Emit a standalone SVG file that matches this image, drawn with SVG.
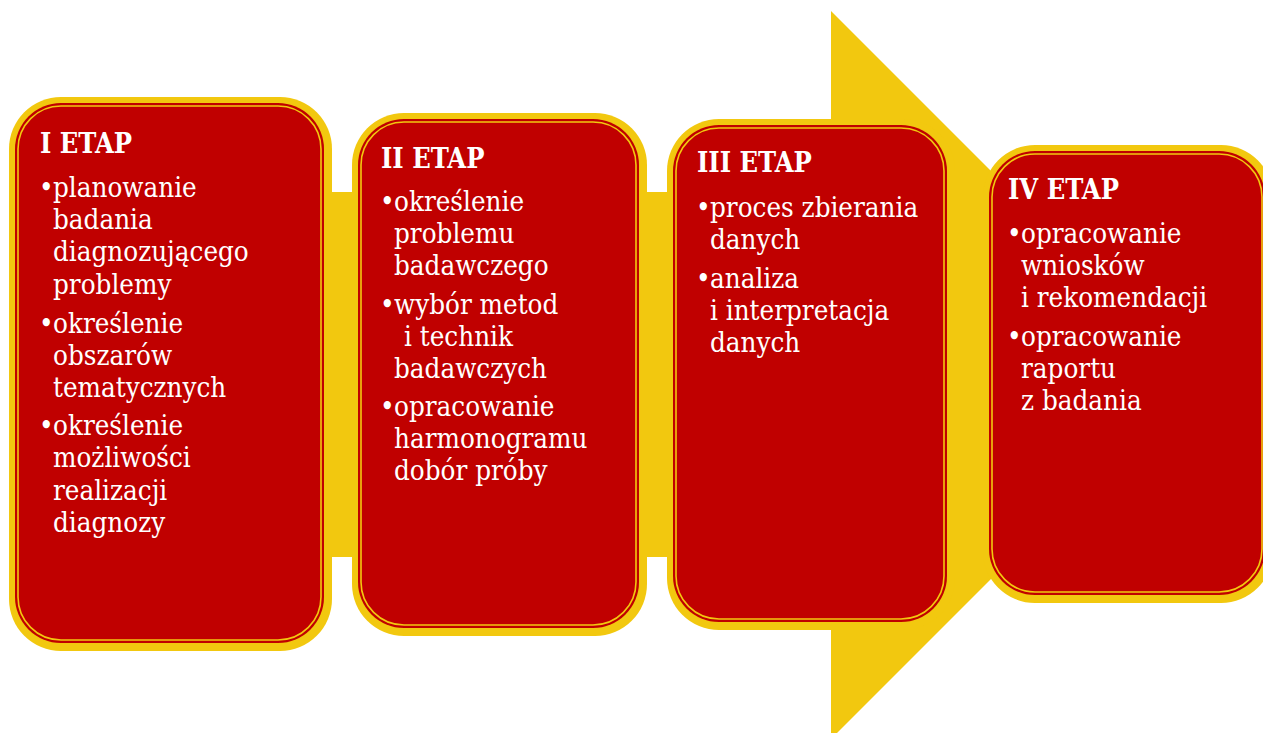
<svg xmlns="http://www.w3.org/2000/svg" width="1263" height="733" viewBox="0 0 1263 733">
<style>
.outer{fill:#F2C80F}
.inner{fill:#C00000}
.line{fill:none;stroke:#F2C80F;stroke-width:1.6}
.h{font-family:"DejaVu Serif Condensed","DejaVu Serif","Liberation Serif",serif;font-stretch:condensed;font-weight:bold;font-size:27px;fill:#FFFFFF}
.t{font-family:"DejaVu Serif Condensed","DejaVu Serif","Liberation Serif",serif;font-stretch:condensed;font-size:27.5px;fill:#FFFFFF}
</style>
<rect width="1263" height="733" fill="#FFFFFF"/>
<g id="arrow">
<rect class="outer" x="20" y="192" width="820" height="365"/>
<polygon class="outer" points="831,11 1195,375 831,739"/>
</g>
<g id="connectors"></g>
<g id="etap1">
<rect class="outer" x="9" y="97" width="323" height="554" rx="52"/>
<rect class="inner" x="15" y="103" width="309" height="540" rx="46"/>
<rect class="line" x="18" y="106" width="303" height="534" rx="43"/>
<text class="h" x="40" y="153">I ETAP</text>
<text class="t"><tspan x="39" y="197">•</tspan><tspan x="53" y="197">planowanie</tspan><tspan x="53" y="229">badania</tspan><tspan x="53" y="261">diagnozującego</tspan><tspan x="53" y="294">problemy</tspan><tspan x="39" y="333">•</tspan><tspan x="53" y="333">określenie</tspan><tspan x="53" y="365">obszarów</tspan><tspan x="53" y="397">tematycznych</tspan><tspan x="39" y="435">•</tspan><tspan x="53" y="435">określenie</tspan><tspan x="53" y="467">możliwości</tspan><tspan x="53" y="500">realizacji</tspan><tspan x="53" y="532">diagnozy</tspan></text>
</g>
<g id="etap2">
<rect class="outer" x="352" y="113" width="295" height="523" rx="52"/>
<rect class="inner" x="358" y="119" width="281" height="509" rx="46"/>
<rect class="line" x="361" y="122" width="275" height="503" rx="43"/>
<text class="h" x="381" y="168">II ETAP</text>
<text class="t"><tspan x="380" y="211">•</tspan><tspan x="394" y="211">określenie</tspan><tspan x="394" y="243">problemu</tspan><tspan x="394" y="275">badawczego</tspan><tspan x="380" y="314">•</tspan><tspan x="394" y="314">wybór metod</tspan><tspan x="404" y="346">i technik</tspan><tspan x="394" y="378">badawczych</tspan><tspan x="380" y="416">•</tspan><tspan x="394" y="416">opracowanie</tspan><tspan x="394" y="448">harmonogramu</tspan><tspan x="394" y="480">dobór próby</tspan></text>
</g>
<g id="etap3">
<rect class="outer" x="667" y="119" width="288" height="511" rx="52"/>
<rect class="inner" x="673" y="125" width="274" height="497" rx="46"/>
<rect class="line" x="676" y="128" width="268" height="491" rx="43"/>
<text class="h" x="697" y="172">III ETAP</text>
<text class="t"><tspan x="696" y="217">•</tspan><tspan x="710" y="217">proces zbierania</tspan><tspan x="710" y="249">danych</tspan><tspan x="696" y="288">•</tspan><tspan x="710" y="288">analiza</tspan><tspan x="710" y="320">i interpretacja</tspan><tspan x="710" y="352">danych</tspan></text>
</g>
<g id="etap4">
<rect class="outer" x="983" y="145" width="290" height="458" rx="52"/>
<rect class="inner" x="989" y="151" width="276" height="444" rx="46"/>
<rect class="line" x="992" y="154" width="270" height="438" rx="43"/>
<text class="h" x="1008" y="199">IV ETAP</text>
<text class="t"><tspan x="1007" y="243">•</tspan><tspan x="1021" y="243">opracowanie</tspan><tspan x="1021" y="275">wniosków</tspan><tspan x="1021" y="307">i rekomendacji</tspan><tspan x="1007" y="346">•</tspan><tspan x="1021" y="346">opracowanie</tspan><tspan x="1021" y="378">raportu</tspan><tspan x="1021" y="410">z badania</tspan></text>
</g>
</svg>
